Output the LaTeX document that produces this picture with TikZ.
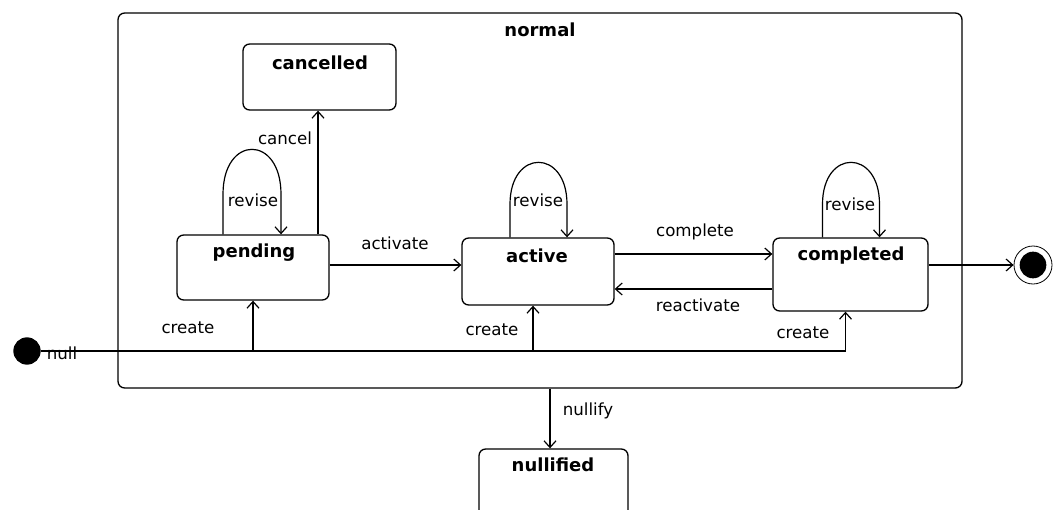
\documentclass[tikz,border=0pt]{standalone}
\usepackage{fontspec}
\setmainfont{DejaVu Sans}
\usetikzlibrary{arrows.meta,calc}
\begin{document}
\begin{tikzpicture}[x=0.75pt,y=-0.75pt,
  state/.style={draw, rounded corners=5pt, line width=1pt, inner sep=0pt},
  lbl/.style={font=\fontsize{12.5}{14}\selectfont, inner sep=0pt},
  ttl/.style={font=\fontsize{13.5}{16}\selectfont\bfseries, inner sep=0pt},
  arr/.style={line width=0.9pt, -{Straight Barb[length=5pt,width=9pt]}}]
\useasboundingbox (0,0) rectangle (1053,510);
% states
\node[state, minimum width=633pt, minimum height=281.25pt] (normal) at (540,200.5) {};
\node[ttl] (normalT) at (540,30) {normal};
\node[state, minimum width=114.75pt, minimum height=49.5pt] (cancelled) at (319.5,77) {};
\node[ttl] (cancelledT) at (320,63) {cancelled};
\node[state, minimum width=114pt, minimum height=48.75pt] (pending) at (253,267.5) {};
\node[ttl] (pendingT) at (254,253) {pending};
\node[state, minimum width=114pt, minimum height=50.25pt] (active) at (538,271.5) {};
\node[ttl] (activeT) at (537,256) {active};
\node[state, minimum width=116.25pt, minimum height=54.75pt] (completed) at (850.5,274.5) {};
\node[ttl] (completedT) at (851,256) {completed};
\node[state, minimum width=111.75pt, minimum height=53.25pt] (nullified) at (553.5,484.5) {};
\node[ttl] (nullifiedT) at (553,465) {nullified};
% pseudo states
\node[circle, fill, minimum size=20.5pt, inner sep=0pt] (init) at (27,351) {};
\node[circle, draw, line width=0.6pt, minimum size=28.5pt, inner sep=0pt] (final) at (1033,265) {};
\node[circle, fill, minimum size=20pt, inner sep=0pt] (finalin) at (final) {};
% create transitions
\draw[arr] (init) -| (pending.south);
\draw[arr] (init) -| ($(active.south)+(-5,0)$);
\draw[arr] (init) -| ($(completed.south)+(-5,0)$);
\draw[line width=2pt] (init) -- (init -| pending.south);
\node[lbl] (nullL) at (62,353) {null};
\node[lbl] (create1) at (188,328) {create};
\node[lbl] (create2) at (492,330) {create};
\node[lbl] (create3) at (803,333) {create};
% revise loops
\draw[arr] ($(pending.north)+(-30,0)$) -- ($(pending.north)+(-30,-40)$)
  .. controls ($(pending.north)+(-30,-100)$) and ($(pending.north)+(28,-100)$) .. ($(pending.north)+(28,-40)$)
  -- ($(pending.north)+(28,0)$);
\node[lbl] (revise1) at (253,200) {revise};
\draw[arr] ($(active.north)+(-28,0)$) -- ($(active.north)+(-28,-33)$)
  .. controls ($(active.north)+(-28,-89)$) and ($(active.north)+(29,-89)$) .. ($(active.north)+(29,-33)$)
  -- ($(active.north)+(29,0)$);
\node[lbl] (revise2) at (538,200) {revise};
\draw[arr] ($(completed.north)+(-28,0)$) -- ($(completed.north)+(-28,-33)$)
  .. controls ($(completed.north)+(-28,-89)$) and ($(completed.north)+(29,-89)$) .. ($(completed.north)+(29,-33)$)
  -- ($(completed.north)+(29,0)$);
\node[lbl] (revise3) at (850,204) {revise};
% cancel
\coordinate (ct) at ($(pending.north)+(65,0)$);
\draw[arr] (ct) -- (ct |- cancelled.south);
\node[lbl] (cancelL) at (285,138) {cancel};
% activate
\coordinate (a1) at ($(pending.east)+(0,-2.5)$);
\draw[arr] (a1) -- (a1 -| active.west);
\node[lbl] (activateL) at (395,243) {activate};
% complete
\coordinate (c1) at ($(active.east)+(0,-17.5)$);
\draw[arr] (c1) -- (c1 -| completed.west);
\node[lbl] (completeL) at (695,232) {complete};
% reactivate
\coordinate (r1) at ($(completed.west)+(0,14.5)$);
\draw[arr] (r1) -- (r1 -| active.east);
\node[lbl] (reactivateL) at (698,305) {reactivate};
% final
\draw[arr] (final -| completed.east) -- (final);
% nullify
\coordinate (nt) at ($(nullified.north)+(-3.5,0)$);
\draw[arr] (nt |- normal.south) -- (nt);
\node[lbl] (nullifyL) at (588,411) {nullify};
\end{tikzpicture}
\end{document}
